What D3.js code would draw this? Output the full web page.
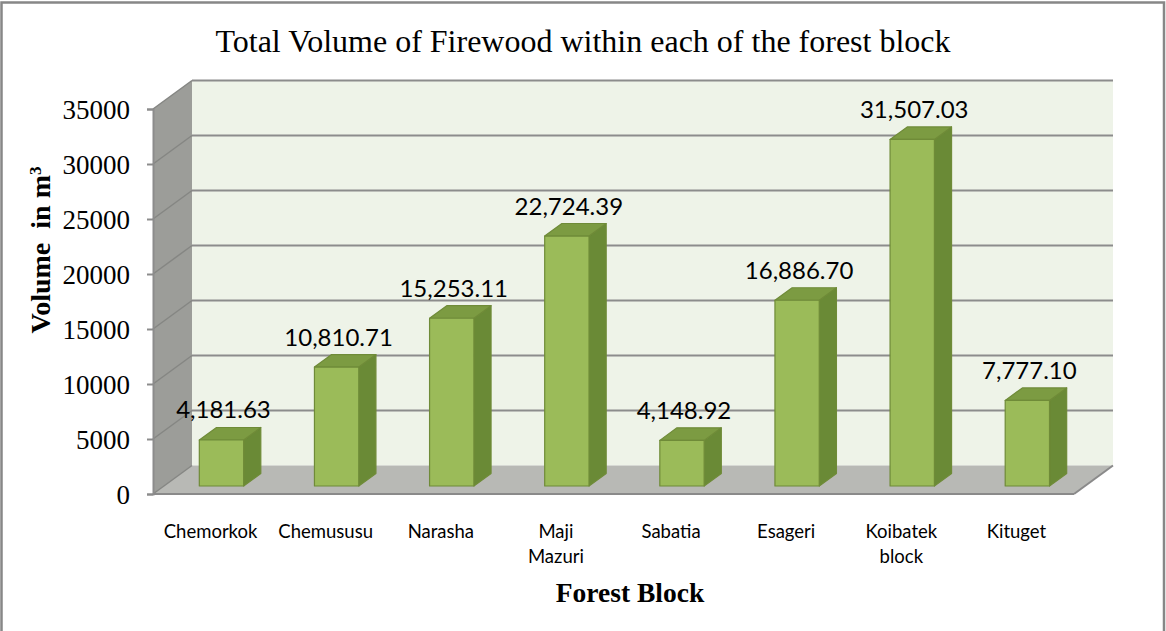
<!DOCTYPE html>
<html><head><meta charset="utf-8">
<script src="https://cdn.jsdelivr.net/npm/d3@7"></script>
<style>body{margin:0;background:#fff}svg{display:block}</style>
</head><body>
<svg id="c" width="1166" height="631"></svg>
<script>
const categories = ["Chemorkok","Chemususu","Narasha","Maji Mazuri","Sabatia","Esageri","Koibatek block","Kituget"];
const values = [4181.63,10810.71,15253.11,22724.39,4148.92,16886.70,31507.03,7777.10];
const valueLabels = ["4,181.63","10,810.71","15,253.11","22,724.39","4,148.92","16,886.70","31,507.03","7,777.10"];
const yTicks = [0,5000,10000,15000,20000,25000,30000,35000];
const title = "Total Volume of Firewood within each of the forest block";
const xTitle = "Forest Block";

const svg = d3.select("#c");
const W=1166,H=631;
// frame
svg.append("rect").attr("x",1.5).attr("y",2.5).attr("width",1162.5).attr("height",640)
  .attr("fill","#fff").attr("stroke","#878787").attr("stroke-width",2.5);

const x = d3.scaleBand().domain(categories).range([153,1074]);
const y = d3.scaleLinear().domain([0,35000]).range([494,109]);
const DX=39, DY=-28.5;
const t0=0.28, t1=0.72;

// back wall
svg.append("rect").attr("x",153+DX).attr("y",y(35000)+DY).attr("width",1074-153).attr("height",y(0)-y(35000))
  .attr("fill","#eef3e8");
// left wall
svg.append("polygon").attr("points",[[153,y(35000)],[153+DX,y(35000)+DY],[153+DX,y(0)+DY],[153,y(0)]].join(" "))
  .attr("fill","#9c9d99");
// floor
svg.append("polygon").attr("points",[[153,y(0)],[153+DX,y(0)+DY],[1074+DX,y(0)+DY],[1074,y(0)]].join(" "))
  .attr("fill","#b8b9b5");
// gridlines
const g = svg.append("g");
yTicks.forEach(v=>{
  if(v>0){
  g.append("line").attr("x1",153+DX).attr("x2",1074+DX).attr("y1",y(v)+DY).attr("y2",y(v)+DY)
    .attr("stroke","#8c8c8c").attr("stroke-width",2);
  g.append("line").attr("x1",153).attr("x2",153+DX).attr("y1",y(v)).attr("y2",y(v)+DY)
    .attr("stroke","#858683").attr("stroke-width",1.5);
  }
});
// floor edges
svg.append("line").attr("x1",153).attr("x2",1074).attr("y1",y(0)).attr("y2",y(0)).attr("stroke","#8a8a8a").attr("stroke-width",2);
svg.append("line").attr("x1",1074).attr("x2",1074+DX).attr("y1",y(0)).attr("y2",y(0)+DY).attr("stroke","#8a8a8a").attr("stroke-width",2);
svg.append("line").attr("x1",153).attr("x2",153+DX).attr("y1",y(0)).attr("y2",y(0)+DY).attr("stroke","#858683").attr("stroke-width",1.5);
// y axis
const ax = svg.append("g").attr("transform","translate(153,0)")
  .call(d3.axisLeft(y).tickValues(yTicks).tickFormat(d3.format("d")).tickSize(6).tickPadding(17));
ax.select(".domain").attr("stroke","#8c8c8c").attr("stroke-width",2);
ax.selectAll(".tick line").attr("stroke","#8c8c8c").attr("stroke-width",2);
ax.selectAll(".tick text").attr("font-family","'Liberation Serif','Times New Roman',serif").attr("font-size",27).attr("fill","#000").attr("dy","0.34em");

// bars
const bw = x.bandwidth()*0.385;
const bdx=(t1-t0)*DX, bdy=(t1-t0)*DY;
const bars = svg.append("g");
categories.forEach((c,i)=>{
  const xl = x(c)+x.bandwidth()/2-bw/2 + t0*DX;
  const xr = xl+bw;
  const yb = y(0)+t0*DY;
  const yt = y(values[i])+t0*DY;
  const gb = bars.append("g").attr("stroke","#6f8b38").attr("stroke-width",1.2).attr("stroke-linejoin","round");
  gb.append("polygon").attr("points",[[xr,yt],[xr+bdx,yt+bdy],[xr+bdx,yb+bdy],[xr,yb]].join(" ")).attr("fill","#6a8a36");
  gb.append("polygon").attr("points",[[xl,yt],[xl+bdx,yt+bdy],[xr+bdx,yt+bdy],[xr,yt]].join(" ")).attr("fill","#7c9b42");
  gb.append("rect").attr("x",xl).attr("y",yt).attr("width",bw).attr("height",yb-yt).attr("fill","#9bbb59");
  svg.append("text").attr("x",(xl+xr)/2+2).attr("y",yt+bdy-9).attr("text-anchor","middle")
    .attr("font-family","Lato,'Open Sans',sans-serif").attr("font-size",24).attr("fill","#000").text(valueLabels[i]);
});

// x labels
categories.forEach(c=>{
  const words = c.split(" ");
  const tx = svg.append("text").attr("x",x(c)+x.bandwidth()/2).attr("y",538).attr("text-anchor","middle")
    .attr("font-family","Lato,'Open Sans',sans-serif").attr("font-size",18.5).attr("fill","#000");
  words.forEach((w,j)=>tx.append("tspan").attr("x",x(c)+x.bandwidth()/2).attr("dy",j?25:0).text(w));
});

// title
svg.append("text").attr("x",583).attr("y",52).attr("text-anchor","middle")
  .attr("font-family","'Liberation Serif','Times New Roman',serif").attr("font-size",32).attr("fill","#000").text(title);
// x title
svg.append("text").attr("x",630).attr("y",602).attr("text-anchor","middle")
  .attr("font-family","'Liberation Serif','Times New Roman',serif").attr("font-weight","bold").attr("font-size",27.5).attr("fill","#000").text(xTitle);
// y title
const yt = svg.append("text").attr("transform","translate(50,250) rotate(-90)").attr("text-anchor","middle")
  .attr("font-family","'Liberation Serif','Times New Roman',serif").attr("font-weight","bold").attr("font-size",28).attr("fill","#000");
yt.append("tspan").text("Volume\u00a0 in m");
yt.append("tspan").attr("baseline-shift","super").attr("font-size",17).text("3");
</script>
</body></html>
